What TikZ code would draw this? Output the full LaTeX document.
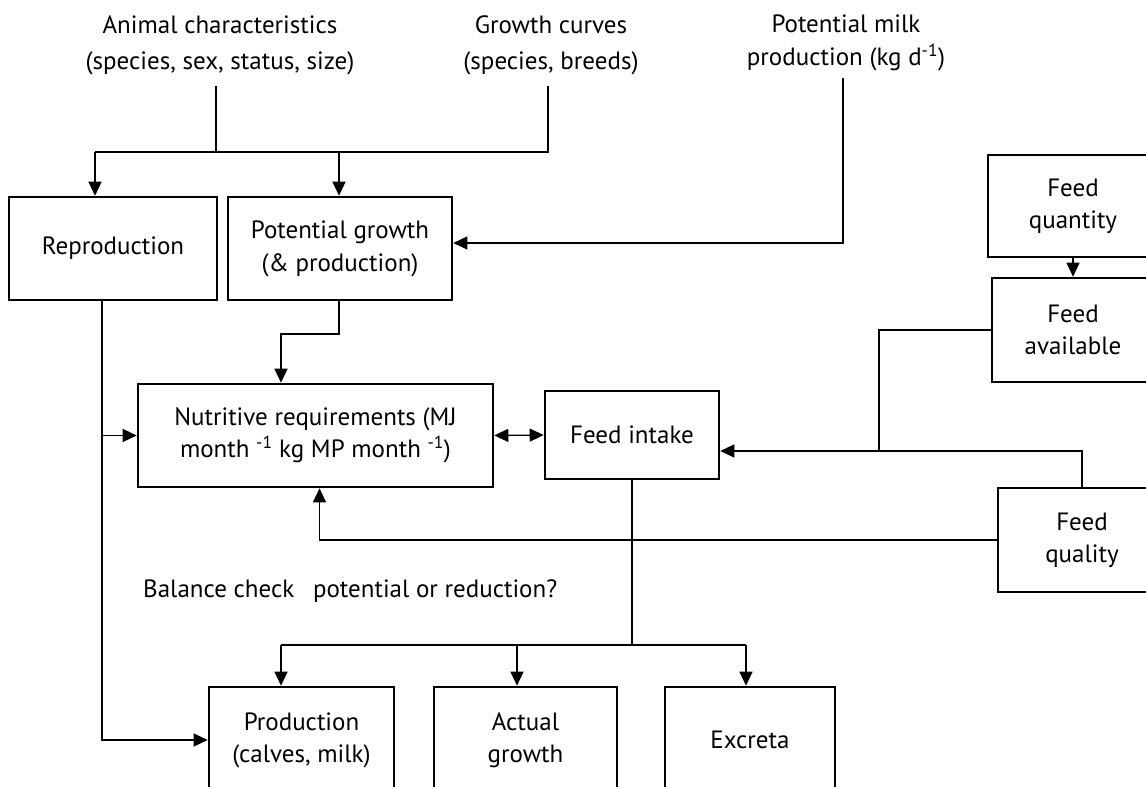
\documentclass[tikz,border=0pt]{standalone}
\usepackage{fontspec}
\setmainfont{PT Sans}
\usetikzlibrary{arrows.meta}
\begin{document}
\begin{tikzpicture}[x=1pt,y=-1pt,
  txt/.style={font=\fontsize{25}{32}\selectfont},
  box/.style={draw, line width=2.6pt, align=center, inner sep=0pt, txt},
  lbl/.style={align=center, inner sep=0pt, txt},
  conn/.style={line width=1.3pt},
  arr/.style={conn, -{Triangle[length=14pt,width=13pt]}},
]
\useasboundingbox (0,0) rectangle (1146,787);

% top labels
\node[lbl, font=\fontsize{25}{36}\selectfont] (animal) at (220,45) {Animal characteristics\\(species, sex, status, size)};
\node[lbl, font=\fontsize{25}{36}\selectfont] (growth) at (551,45) {Growth curves\\(species, breeds)};
\node[lbl, font=\fontsize{25}{33}\selectfont] (milk) at (846,43) {Potential milk\\production (kg d\textsuperscript{-1})};

% boxes
\node[box, minimum width=208pt, minimum height=103pt] (repro) at (113,248.5) {Reproduction};
\node[box, minimum width=224pt, minimum height=103pt, font=\fontsize{25}{33}\selectfont] (potg) at (340,248.5) {Potential growth\\(\& production)};
\node[box, minimum width=355pt, minimum height=103pt] (nutr) at (315.5,435.5) {Nutritive requirements (MJ\\month \textsuperscript{-1} kg MP month \textsuperscript{-1})};
\node[box, minimum width=174pt, minimum height=88pt] (intake) at (632,435) {Feed intake};
\node[box, minimum width=170pt, minimum height=102pt] (quant) at (1073,206) {Feed\\quantity};
\node[box, minimum width=162pt, minimum height=104pt] (avail) at (1073,330) {Feed\\available};
\node[box, minimum width=168pt, minimum height=104pt] (qual) at (1082,540) {Feed\\quality};
\node[box, minimum width=185pt, minimum height=106pt] (prod) at (301.5,740) {Production\\(calves, milk)};
\node[box, minimum width=183pt, minimum height=106pt] (actual) at (525.5,740) {Actual\\growth};
\node[box, minimum width=170pt, minimum height=106pt] (excr) at (750,740) {Excreta};

\node[lbl, anchor=base west] (balance) at (143,597) {Balance check\hspace{0.75em}potential or reduction?};

% coordinates
\coordinate (aS) at (216,86);
\coordinate (gS) at (548,86);
\coordinate (mS) at (843,78);
\coordinate (j1) at (216,152);
\coordinate (j2) at (548,152);
\coordinate (jL) at (95,152);
\coordinate (jM) at (339,152);
\coordinate (fJ) at (879,451);
\coordinate (iJ) at (632,645);
\coordinate (pJ) at (281,645);
\coordinate (aJ) at (517,645);
\coordinate (eJ) at (746,645);
\coordinate (rX) at (102,300);
\coordinate (rJ) at (102,435.5);
\coordinate (pG) at (281,334);
\coordinate (pS) at (339,300);

% top connectors
\draw[conn] (aS) -- (j1);
\draw[conn] (gS) -- (j2) -- (jL);
\draw[arr] (jL) -- (jL |- repro.north);
\draw[arr] (jM) -- (jM |- potg.north);
\draw[arr] (mS) |- ([yshift=5.5pt]potg.east);

% potential growth -> nutritive
\draw[arr] (pS) -- (pS |- pG) -- (pG) -- (pG |- nutr.north);

% reproduction line
\draw[arr] (rX) |- (prod.west);
\draw[arr] (rJ) -- (nutr.west);

% nutritive <-> intake
\draw[conn, {Triangle[length=14pt,width=13pt]}-{Triangle[length=14pt,width=13pt]}] (nutr.east) -- (intake.west);

% feed supply
\draw[arr] (quant.south) -- (quant.south |- avail.north);
\draw[conn] (avail.west) -| (fJ);
\draw[conn] (qual.north) |- (fJ);
\draw[arr] (fJ) -- (fJ -| intake.east);

% quality -> nutritive
\draw[arr] (qual.west) -| ([xshift=4pt]nutr.south);

% intake -> outputs
\draw[conn] (intake.south) -- (iJ);
\draw[conn] (pJ) -- (eJ);
\draw[arr] (pJ) -- (pJ |- prod.north);
\draw[arr] (aJ) -- (aJ |- actual.north);
\draw[arr] (eJ) -- (eJ |- excr.north);
\end{tikzpicture}
\end{document}
